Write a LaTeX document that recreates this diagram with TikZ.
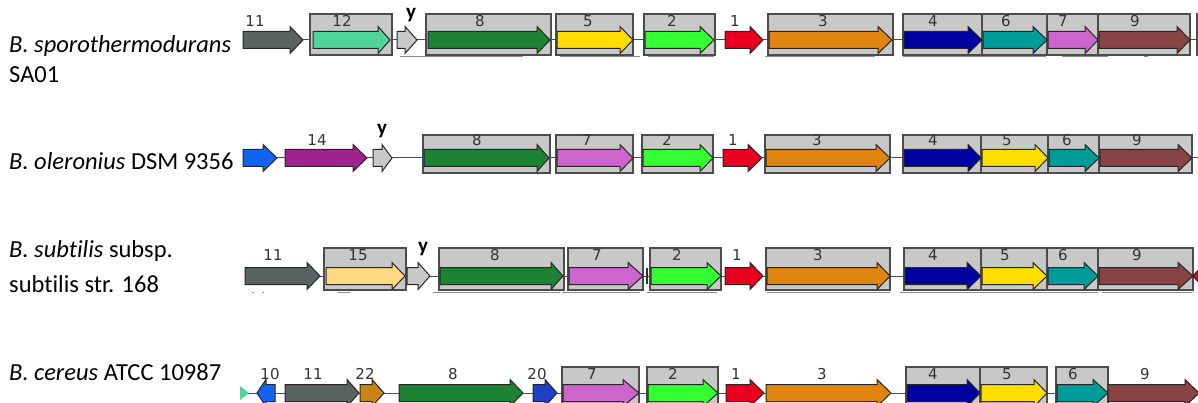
\documentclass[tikz,border=0pt]{standalone}
\usepackage{fontspec}
\setmainfont{Carlito}[Ligatures=NoCommon]
\newfontfamily\genefont{DejaVu Sans}
\definecolor{boxgray}{HTML}{C8C8C8}
\definecolor{c11}{HTML}{5A6262}
\definecolor{c12}{HTML}{50D49A}
\definecolor{cy}{HTML}{C8C8C8}
\definecolor{c8}{HTML}{1E8234}
\definecolor{c5}{HTML}{FFDD00}
\definecolor{c2}{HTML}{33FF33}
\definecolor{c1}{HTML}{E8001E}
\definecolor{c3}{HTML}{E08412}
\definecolor{c4}{HTML}{0000A0}
\definecolor{c6}{HTML}{009C9A}
\definecolor{c7}{HTML}{CC66CC}
\definecolor{c9}{HTML}{884444}
\definecolor{cblue}{HTML}{1064F0}
\definecolor{c14}{HTML}{A0228C}
\definecolor{c15}{HTML}{FFD884}
\definecolor{c22}{HTML}{C88414}
\definecolor{c20}{HTML}{2040C8}
\tikzset{
 gene/.style={draw=black!85, line width=1pt, line join=miter},
 gbox/.style={draw=black!70, fill=boxgray, line width=1.2pt},
 spine/.style={draw=black!70, line width=1pt},
 glabel/.style={font=\genefont\fontsize{15}{15}\selectfont, text=black!80, inner sep=0},
 ylab/.style={font=\bfseries\fontsize{21}{21}\selectfont, inner sep=0},
 species/.style={font=\fontsize{24.5}{24.5}\selectfont, anchor=west, inner sep=0},
 uline/.style={draw=black!45, line width=1pt},
}
% right-pointing gene: start, head base, tip, centre y, colour
\newcommand{\garrow}[5]{\draw[gene, fill=#5] (#1,#4-8.5) -- (#2,#4-8.5) -- (#2,#4-13.5) -- (#3,#4) -- (#2,#4+13.5) -- (#2,#4+8.5) -- (#1,#4+8.5) -- cycle;}
% left-pointing gene: tip, head base, end, centre y, colour
\newcommand{\garrowl}[5]{\draw[gene, fill=#5] (#3,#4-8.5) -- (#2,#4-8.5) -- (#2,#4-13.5) -- (#1,#4) -- (#2,#4+13.5) -- (#2,#4+8.5) -- (#3,#4+8.5) -- cycle;}
\newcommand{\gbx}[4]{\draw[gbox] (#1,#3) rectangle (#2,#4);}
\begin{document}
\begin{tikzpicture}[x=1pt,y=-1pt]
\useasboundingbox (0,0) rectangle (1198,403);
\clip (0,0) rectangle (1198,403);
\fill[white] (0,0) rectangle (1198,403);

% ---------------- species names
\node[species] (s1a) at (9,46) {\itshape B. sporothermodurans};
\node[species] (s1b) at (9,75) {SA01};
\node[species] (s2) at (9,161) {\itshape B. oleronius\upshape\ DSM 9356};
\node[species] (s3a) at (9,251) {\itshape B. subtilis\upshape\ subsp.};
\node[species] (s3b) at (9,284) {subtilis str. 168};
\node[species] (s4) at (9,372) {\itshape B. cereus\upshape\ ATCC 10987};

% ---------------- row 1 (centre 40)
\draw[spine] (290,40) -- (1198,40);
\foreach \a/\b in {400/523,560/640,648/714,765/875,903/1046,1062/1108,1144/1148}{\draw[uline] (\a,57) -- (\b,57);}
\gbx{310}{392}{14}{55}
\gbx{426}{551}{14}{55}
\gbx{556}{633}{14}{55}
\gbx{644}{715}{14}{55}
\gbx{768}{893}{14}{55}
\gbx{903}{982}{14}{55}
\gbx{982}{1047}{14}{55}
\gbx{1047}{1098}{14}{55}
\gbx{1098}{1190}{14}{55}
\gbx{1197}{1220}{14}{55}
\garrow{243}{290}{303}{40}{c11}
\garrow{313}{378}{390}{40}{c12}
\garrow{397}{405}{417}{40}{cy}
\garrow{428}{537}{550}{40}{c8}
\garrow{557}{620}{633}{40}{c5}
\garrow{645}{700}{714}{40}{c2}
\garrow{725}{750}{763}{40}{c1}
\garrow{769}{878}{892}{40}{c3}
\garrow{904}{968}{982}{40}{c4}
\garrow{983}{1033}{1047}{40}{c6}
\garrow{1048}{1085}{1098}{40}{c7}
\garrow{1099}{1177}{1190}{40}{c9}
\node[glabel] (r1n11) at (255,21) {11};
\node[glabel] (r1n12) at (342,21) {12};
\node[ylab] (r1y) at (411,15) {y};
\node[glabel] (r1n8) at (480,21) {8};
\node[glabel] (r1n5) at (588,21) {5};
\node[glabel] (r1n2) at (672,21) {2};
\node[glabel] (r1n1) at (735,21) {1};
\node[glabel] (r1n3) at (823,21) {3};
\node[glabel] (r1n4) at (933,21) {4};
\node[glabel] (r1n6) at (1006,21) {6};
\node[glabel] (r1n7) at (1063,21) {7};
\node[glabel] (r1n9) at (1135,21) {9};

% ---------------- row 2 (centre 158)
\draw[spine] (263,158) -- (1198,158);
\gbx{423}{550}{135}{173}
\gbx{556}{633}{135}{173}
\gbx{642}{713}{135}{173}
\gbx{765}{890}{135}{173}
\gbx{903}{981}{135}{173}
\gbx{981}{1048}{135}{173}
\gbx{1048}{1099}{135}{173}
\gbx{1099}{1192}{135}{173}
\garrow{243}{263}{277}{158}{cblue}
\garrow{285}{353}{367}{158}{c14}
\garrow{373}{382}{392}{158}{cy}
\garrow{424}{537}{549}{158}{c8}
\garrow{557}{620}{633}{158}{c7}
\garrow{643}{700}{713}{158}{c2}
\garrow{723}{748}{762}{158}{c1}
\garrow{766}{876}{890}{158}{c3}
\garrow{904}{968}{981}{158}{c4}
\garrow{982}{1035}{1048}{158}{c5}
\garrow{1049}{1085}{1099}{158}{c6}
\garrow{1100}{1178}{1192}{158}{c9}
\node[glabel] (r2n14) at (317,140) {14};
\node[ylab] (r2y) at (382,131) {y};
\node[glabel] (r2n8) at (477,140) {8};
\node[glabel] (r2n7) at (587,140) {7};
\node[glabel] (r2n2) at (667,140) {2};
\node[glabel] (r2n1) at (733,140) {1};
\node[glabel] (r2n3) at (817,140) {3};
\node[glabel] (r2n4) at (933,140) {4};
\node[glabel] (r2n5) at (1007,140) {5};
\node[glabel] (r2n6) at (1067,140) {6};
\node[glabel] (r2n9) at (1137,140) {9};

% ---------------- row 3 (centre 276)
\draw[spine] (307,276) -- (1198,276);
\foreach \a/\b in {433/560,562/640,647/717,767/890,900/1098,1102/1193}{\draw[uline] (\a,292) -- (\b,292);}
\draw[uline] (252,292) -- (254,292);
\draw[uline] (262,292) -- (264,292);
\draw[uline] (338,292) -- (350,292);
\gbx{324}{406}{248}{290}
\gbx{439}{564}{248}{290}
\gbx{568}{643}{248}{290}
\gbx{650}{721}{248}{290}
\gbx{766}{890}{248}{290}
\gbx{904}{981}{248}{290}
\gbx{981}{1047}{248}{290}
\gbx{1047}{1098}{248}{290}
\gbx{1098}{1193}{248}{290}
\draw[black!80, line width=1.2pt] (647,268) -- (647,284);
\garrow{245}{307}{320}{276}{c11}
\garrow{326}{392}{405}{276}{c15}
\garrow{407}{418}{430}{276}{cy}
\garrow{440}{551}{563}{276}{c8}
\garrow{569}{628}{643}{276}{c7}
\garrow{651}{707}{721}{276}{c2}
\garrow{725}{750}{763}{276}{c1}
\garrow{767}{877}{890}{276}{c3}
\garrow{905}{967}{981}{276}{c4}
\garrow{982}{1033}{1047}{276}{c5}
\garrow{1048}{1084}{1098}{276}{c6}
\garrow{1099}{1178}{1193}{276}{c9}
\garrowl{1193}{1205}{1240}{276}{c1}
\node[glabel] (r3n11) at (273,255) {11};
\node[glabel] (r3n15) at (358,255) {15};
\node[ylab] (r3y) at (423,249) {y};
\node[glabel] (r3n8) at (495,255) {8};
\node[glabel] (r3n7) at (597,255) {7};
\node[glabel] (r3n2) at (677,255) {2};
\node[glabel] (r3n1) at (737,255) {1};
\node[glabel] (r3n3) at (818,255) {3};
\node[glabel] (r3n4) at (933,255) {4};
\node[glabel] (r3n5) at (1005,255) {5};
\node[glabel] (r3n6) at (1063,255) {6};
\node[glabel] (r3n9) at (1137,255) {9};

% ---------------- row 4 (centre 393)
\draw[spine] (240,393) -- (1198,393);
\gbx{562}{639}{367}{420}
\gbx{647}{718}{367}{420}
\gbx{906}{980}{367}{420}
\gbx{980}{1047}{367}{420}
\gbx{1056}{1108}{367}{420}
\fill[c12] (240,386) -- (249,393) -- (240,400) -- cycle;
\garrowl{257}{266}{275}{393}{cblue}
\garrow{285}{347}{359}{393}{c11}
\garrow{360}{372}{384}{393}{c22}
\garrow{399}{510}{523}{393}{c8}
\garrow{533}{545}{557}{393}{c20}
\garrow{563}{623}{639}{393}{c7}
\garrow{648}{703}{718}{393}{c2}
\garrow{726}{750}{764}{393}{c1}
\garrow{766}{877}{891}{393}{c3}
\garrow{907}{967}{980}{393}{c4}
\garrow{981}{1034}{1047}{393}{c5}
\garrow{1057}{1093}{1108}{393}{c6}
\garrow{1108}{1185}{1199}{393}{c9}
\node[glabel] (r4n10) at (270,374) {10};
\node[glabel] (r4n11) at (313,374) {11};
\node[glabel] (r4n22) at (365,374) {22};
\node[glabel] (r4n8) at (453,374) {8};
\node[glabel] (r4n20) at (537,374) {20};
\node[glabel] (r4n7) at (592,374) {7};
\node[glabel] (r4n2) at (673,374) {2};
\node[glabel] (r4n1) at (736,374) {1};
\node[glabel] (r4n3) at (822,374) {3};
\node[glabel] (r4n4) at (933,374) {4};
\node[glabel] (r4n5) at (1007,374) {5};
\node[glabel] (r4n6) at (1073,374) {6};
\node[glabel] (r4n9) at (1145,374) {9};
\end{tikzpicture}
\end{document}
